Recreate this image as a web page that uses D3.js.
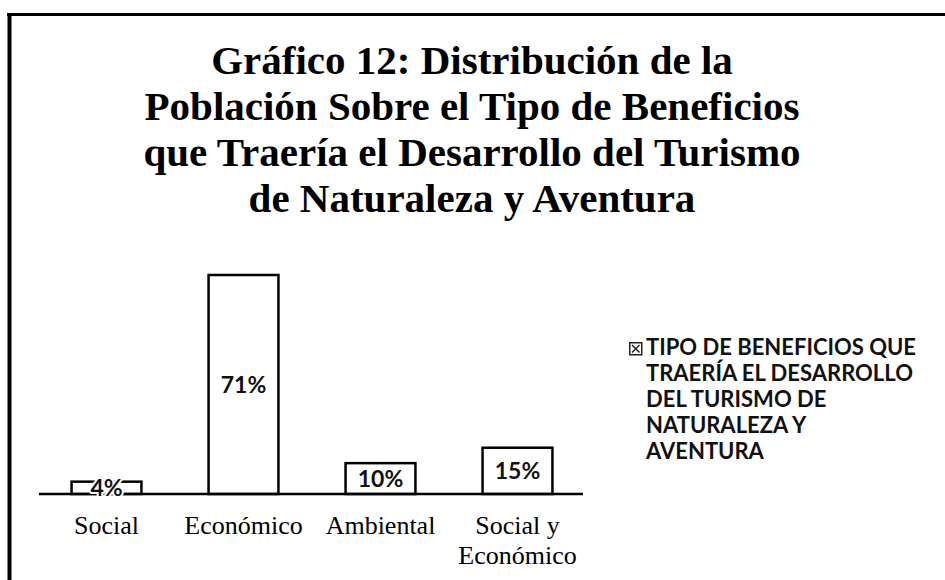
<!DOCTYPE html>
<html>
<head>
<meta charset="utf-8">
<script src="https://cdn.jsdelivr.net/npm/d3@7"></script>
<style>
  body { margin: 0; background: #fff; }
  svg { display: block; }
</style>
</head>
<body>
<div id="container"></div>
<script>
// chart data
var categories = [["Social"], ["Económico"], ["Ambiental"], ["Social y", "Económico"]];
var values = [4, 71, 10, 15];
var labels = ["4%", "71%", "10%", "15%"];
var titleLines = [
  "Gráfico 12: Distribución de la",
  "Población Sobre el Tipo de Beneficios",
  "que Traería el Desarrollo del Turismo",
  "de Naturaleza y Aventura"
];
var legendLines = [
  "TIPO DE BENEFICIOS QUE",
  "TRAERÍA EL DESARROLLO",
  "DEL TURISMO DE",
  "NATURALEZA Y",
  "AVENTURA"
];

var W = 945, H = 580;
var svg = d3.select("#container").append("svg")
  .attr("width", W).attr("height", H);

// frame (only top and left edges visible)
svg.append("line").attr("x1", 7).attr("x2", W).attr("y1", 14.5).attr("y2", 14.5)
  .attr("stroke", "#000").attr("stroke-width", 3);
svg.append("line").attr("x1", 9.5).attr("x2", 9.5).attr("y1", 13).attr("y2", H)
  .attr("stroke", "#000").attr("stroke-width", 4);

// title
svg.append("text")
  .attr("x", 472).attr("y", 74)
  .attr("text-anchor", "middle")
  .style("font-family", "'Liberation Serif', 'Times New Roman', serif")
  .style("font-weight", "bold")
  .style("font-size", "41px")
  .attr("fill", "#000")
  .selectAll("tspan").data(titleLines).enter().append("tspan")
  .attr("x", 472)
  .attr("dy", function(d, i) { return i === 0 ? 0 : 46; })
  .text(function(d) { return d; });

var x = d3.scaleBand()
  .domain(d3.range(categories.length))
  .range([38, 586])
  .paddingInner(0.49)
  .paddingOuter(0.245);

var y = d3.scaleLinear().domain([0, 71]).range([494, 275]);

var g = svg.append("g");

g.selectAll("rect.bar").data(values).enter().append("rect")
  .attr("class", "bar")
  .attr("x", function(d, i) { return x(i); })
  .attr("y", function(d) { return y(d); })
  .attr("width", x.bandwidth())
  .attr("height", function(d) { return y(0) - y(d); })
  .attr("fill", "#fff")
  .attr("stroke", "#000")
  .attr("stroke-width", 2.5);

// baseline axis
var axis = g.append("g")
  .attr("transform", "translate(0," + y(0) + ")")
  .call(d3.axisBottom(x).tickSize(0).tickFormat(""));
axis.select(".domain").attr("d", "M39,0H583").attr("stroke", "#000").attr("stroke-width", 2.5);

// category labels
axis.selectAll(".tick text").remove();
axis.selectAll(".tick").append("text")
  .attr("text-anchor", "middle")
  .attr("fill", "#000")
  .style("font-family", "'Liberation Serif', 'Times New Roman', serif")
  .style("font-size", "26px")
  .selectAll("tspan").data(function(i) { return categories[i]; }).enter().append("tspan")
  .attr("x", 0)
  .attr("y", function(d, j) { return 40 + j * 30; })
  .text(function(d) { return d; });

// data labels (white halo so the small bar's label stays readable)
g.selectAll("text.val").data(values).enter().append("text")
  .attr("class", "val")
  .attr("x", function(d, i) { return x(i) + x.bandwidth() / 2; })
  .attr("y", function(d) { return (y(d) + y(0)) / 2; })
  .attr("dy", "0.36em")
  .attr("text-anchor", "middle")
  .style("font-family", "Lato, 'Open Sans', sans-serif")
  .style("font-weight", "bold")
  .style("font-size", "23px")
  .style("paint-order", "stroke")
  .attr("stroke", "#fff")
  .attr("stroke-width", 4)
  .attr("fill", "#111")
  .text(function(d, i) { return labels[i]; });

// legend
var leg = svg.append("g").attr("transform", "translate(629,342)");
leg.append("rect").attr("x", 0.75).attr("y", 0.75).attr("width", 12).attr("height", 12)
  .attr("fill", "#fff").attr("stroke", "#222").attr("stroke-width", 1.5);
leg.append("path").attr("d", "M3,3L10.5,10.5M10.5,3L3,10.5")
  .attr("stroke", "#222").attr("stroke-width", 1.5);
leg.append("text")
  .style("font-family", "Lato, 'Open Sans', sans-serif")
  .style("font-weight", "bold")
  .style("font-size", "22px")
  .attr("fill", "#111")
  .selectAll("tspan").data(legendLines).enter().append("tspan")
  .attr("x", 17)
  .attr("y", function(d, i) { return 13 + i * 26; })
  .text(function(d) { return d; });
</script>
</body>
</html>
